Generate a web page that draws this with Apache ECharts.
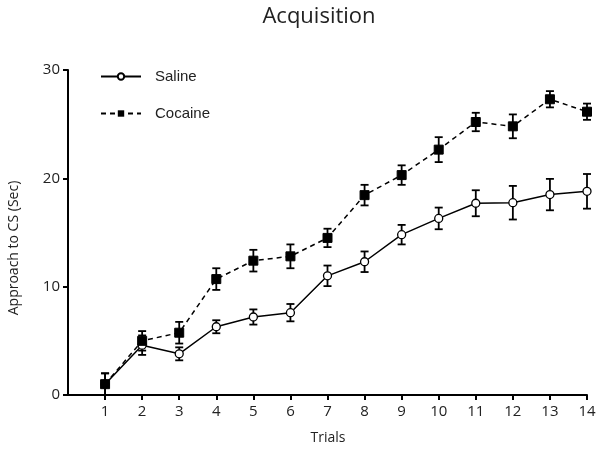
<!DOCTYPE html>
<html><head><meta charset="utf-8">
<script src="https://cdn.jsdelivr.net/npm/echarts@6/dist/echarts.min.js"></script>
<style>html,body{margin:0;padding:0;background:#fff}#c{width:601px;height:449px}</style>
</head><body><div id="c"></div>
<script>
var trials = [1,2,3,4,5,6,7,8,9,10,11,12,13,14];
var salineMean = [1.0,4.6,3.8,6.3,7.2,7.6,11.0,12.3,14.8,16.3,17.7,17.75,18.5,18.8];
var salineErr  = [1.0,0.9,0.6,0.6,0.7,0.8,0.95,0.95,0.9,1.0,1.2,1.55,1.45,1.6];
var cocaineMean = [1.0,5.0,5.75,10.7,12.4,12.8,14.5,18.45,20.3,22.65,25.2,24.8,27.3,26.15];
var cocaineErr  = [1.0,0.9,1.0,1.0,1.0,1.1,0.85,0.95,0.9,1.15,0.85,1.1,0.75,0.75];
var yTicks = [0,10,20,30];

function pairs(m){ return trials.map(function(t,i){return [t,m[i]];}); }
function errData(m,e){ return trials.map(function(t,i){return [t,m[i]-e[i],m[i]+e[i]];}); }
function errItem(params, api){
  var x = api.value(0);
  var lo = api.coord([x, api.value(1)]);
  var hi = api.coord([x, api.value(2)]);
  var w = 4;
  var st = {stroke:'#000', lineWidth:1.8};
  return {type:'group', children:[
    {type:'line', shape:{x1:lo[0],y1:lo[1],x2:hi[0],y2:hi[1]}, style:st},
    {type:'line', shape:{x1:lo[0]-w,y1:lo[1],x2:lo[0]+w,y2:lo[1]}, style:st},
    {type:'line', shape:{x1:hi[0]-w,y1:hi[1],x2:hi[0]+w,y2:hi[1]}, style:st}
  ]};
}
var tickFont = {fontFamily:'Open Sans', fontSize:15, color:'#222'};
var chart = echarts.init(document.getElementById('c'));
chart.setOption({
  animation:false,
  title:{text:'Acquisition', left:314, textAlign:'center', top:1,
    textStyle:{fontFamily:'Open Sans', fontSize:22, fontWeight:'normal', color:'#222'}},
  legend:{orient:'vertical', left:95, top:64, itemWidth:40, itemHeight:8, itemGap:22,
    textStyle:{fontFamily:'Liberation Sans', fontSize:15, color:'#222', padding:[0,0,0,9]},
    data:['Saline','Cocaine']},
  grid:{left:68, right:14, top:70, bottom:54, containLabel:false},
  xAxis:{type:'value', min:0, max:14, interval:1,
    axisLine:{lineStyle:{color:'#000', width:2}},
    axisTick:{customValues:trials, length:5, lineStyle:{color:'#000', width:2}},
    axisLabel:Object.assign({customValues:trials, margin:9}, tickFont),
    splitLine:{show:false}},
  yAxis:{type:'value', min:0, max:30, interval:10,
    axisLine:{show:true, lineStyle:{color:'#000', width:2}},
    axisTick:{show:true, customValues:yTicks, length:5, lineStyle:{color:'#000', width:2}},
    axisLabel:Object.assign({customValues:yTicks, margin:8}, tickFont),
    splitLine:{show:false}},
  graphic:[
    {type:'text', x:328, y:438, style:{text:'Trials', fill:'#222', font:'14px "Open Sans"', align:'center', verticalAlign:'middle'}},
    {type:'text', x:14, y:248, rotation:Math.PI/2, style:{text:'Approach to CS (Sec)', fill:'#222', font:'14px "Open Sans"', align:'center', verticalAlign:'middle'}}
  ],
  series:[
    {type:'custom', name:'cerr', renderItem:errItem, data:errData(cocaineMean,cocaineErr), z:3, silent:true},
    {type:'custom', name:'serr', renderItem:errItem, data:errData(salineMean,salineErr), z:3, silent:true},
    {type:'line', name:'Saline', data:pairs(salineMean), symbol:'circle', symbolSize:8,
      lineStyle:{color:'#000', width:1.5}, itemStyle:{color:'#fff', borderColor:'#000', borderWidth:1.3}, z:4},
    {type:'line', name:'Cocaine', data:pairs(cocaineMean), symbol:'rect', symbolSize:9,
      lineStyle:{color:'#000', width:1.5, type:[5,4]}, itemStyle:{color:'#000', borderColor:'#000'}, z:5}
  ]
});
</script></body></html>
